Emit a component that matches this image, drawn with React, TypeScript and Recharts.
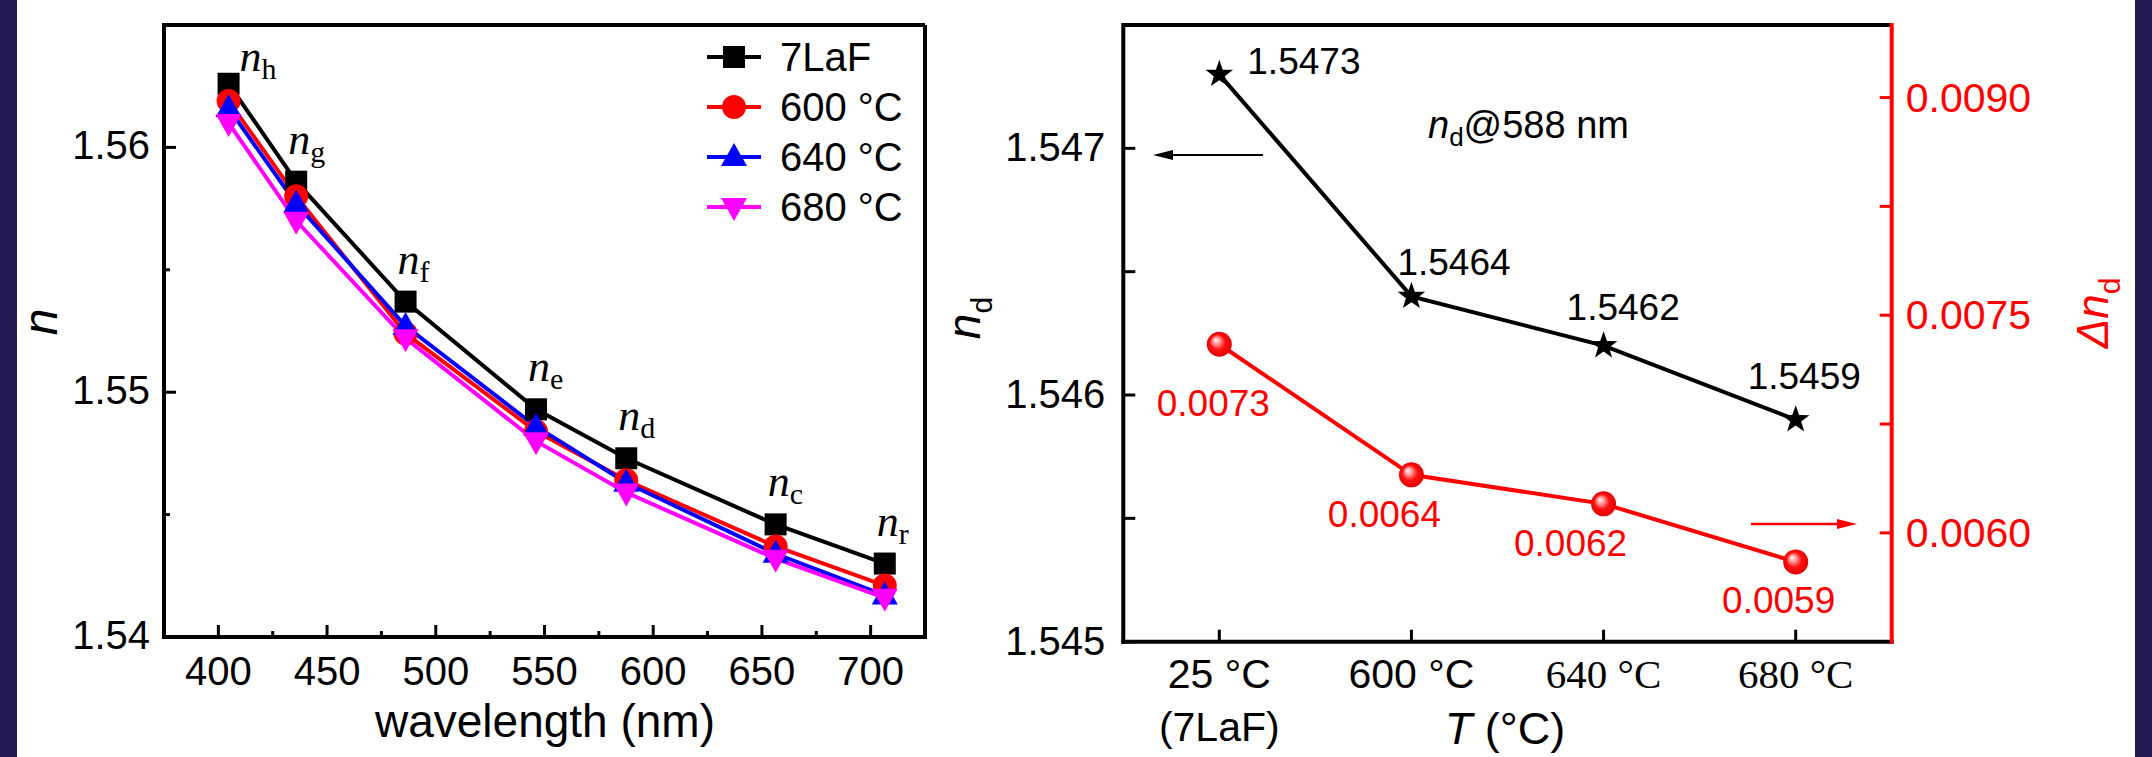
import React from "react"
import { LineChart, Line, XAxis, YAxis, ReferenceLine, LabelList } from "recharts"

const SANS = "'Liberation Sans', Arial, Helvetica, sans-serif"
const SERIF = "'Liberation Serif', 'Times New Roman', serif"
const NAVY = "#211a50"

// left panel: n vs wavelength (Fraunhofer lines)
const wavelengths = [404.7, 435.8, 486.1, 546.1, 587.6, 656.3, 706.5]
const lineLetters = ["h", "g", "f", "e", "d", "c", "r"]
const n7LaF = [1.5626, 1.5586, 1.5537, 1.5493, 1.5473, 1.5446, 1.543]
const n600 = [1.5619, 1.558, 1.5524, 1.5484, 1.5464, 1.5437, 1.5421]
const n640 = [1.5616, 1.5577, 1.5527, 1.5486, 1.5463, 1.5434, 1.5417]
const n680 = [1.561, 1.557, 1.5522, 1.548, 1.5459, 1.5432, 1.5416]
const seriesNames = ["7LaF", "600 °C", "640 °C", "680 °C"]
const seriesColors = ["#000000", "#ff0000", "#0000ff", "#ff00ff"]
const seriesShapes = ["square", "circle", "up", "down"]
const wlTicks = [400, 425, 450, 475, 500, 525, 550, 575, 600, 625, 650, 675, 700]
const nTicks = [1.54, 1.545, 1.55, 1.555, 1.56]

// right panel: nd and delta nd vs heat-treatment temperature
const temps = ["25 °C", "600 °C", "640 °C", "680 °C"]
const ndValues = [1.5473, 1.5464, 1.5462, 1.5459]
const dndValues = [0.0073, 0.0064, 0.0062, 0.0058]
const ndLabels = ["1.5473", "1.5464", "1.5462", "1.5459"]
const dndLabels = ["0.0073", "0.0064", "0.0062", "0.0059"]
const ndTicks = [1.545, 1.5455, 1.546, 1.5465, 1.547]
const dndTicks = [0.006, 0.00675, 0.0075, 0.00825, 0.009]

const leftData = wavelengths.map((wl, i) => ({
  wl,
  s0: n7LaF[i],
  s1: n600[i],
  s2: n640[i],
  s3: n680[i],
}))

const rightData = temps.map((t, i) => ({ temp: t, nd: ndValues[i], dnd: dndValues[i] }))

// label placement (pixels relative to the point)
const ND_LABEL_OFFSETS = [[28, 0], [-14, -21], [-37, -26], [-48, -31]]
const DND_LABEL_OFFSETS = [[-6, 72], [-27, 52], [-33, 52], [-17, 51]]

const AXIS = { stroke: "#000", strokeWidth: 4, strokeLinecap: "square" as const }

function marker(shape: string, cx: number, cy: number, color: string) {
  switch (shape) {
    case "square":
      return <rect x={cx - 11} y={cy - 11} width={22} height={22} fill={color} />
    case "circle":
      return <circle cx={cx} cy={cy} r={12} fill={color} />
    case "up":
      return <polygon points={`${cx},${cy - 14} ${cx - 13},${cy + 9} ${cx + 13},${cy + 9}`} fill={color} />
    default:
      return <polygon points={`${cx},${cy + 14} ${cx - 13},${cy - 9} ${cx + 13},${cy - 9}`} fill={color} />
  }
}

function starPath(cx: number, cy: number, R: number, r: number) {
  let d = ""
  for (let k = 0; k < 10; k++) {
    const rad = k % 2 === 0 ? R : r
    const a = -Math.PI / 2 + (k * Math.PI) / 5
    d += (k === 0 ? "M" : "L") + (cx + rad * Math.cos(a)).toFixed(2) + "," + (cy + rad * Math.sin(a)).toFixed(2)
  }
  return d + "Z"
}

const renderWlTick = (p: any) => {
  const axisY = p.y - 10
  const v = p.payload.value
  const major = v % 50 === 0
  return (
    <g>
      <line x1={p.x} x2={p.x} y1={axisY} y2={axisY - (major ? 12 : 6)} stroke="#000" strokeWidth={3} />
      {major && (
        <text x={p.x} y={axisY + 48} textAnchor="middle" fontFamily={SANS} fontSize={40} fill="#000">
          {v}
        </text>
      )}
    </g>
  )
}

const renderNTick = (p: any) => {
  const axisX = p.x + 14
  const v = p.payload.value
  const major = Math.round(v * 1000) % 10 === 0
  return (
    <g>
      <line x1={axisX} x2={axisX + (major ? 12 : 6)} y1={p.y} y2={p.y} stroke="#000" strokeWidth={3} />
      {major && (
        <text x={axisX - 14} y={p.y + 12} textAnchor="end" fontFamily={SANS} fontSize={40} fill="#000">
          {v.toFixed(2)}
        </text>
      )}
    </g>
  )
}

const renderTempTick = (p: any) => {
  const axisY = p.y - 10
  const i = p.index
  const font = i >= 2 ? SERIF : SANS
  return (
    <g>
      <line x1={p.x} x2={p.x} y1={axisY} y2={axisY - 12} stroke="#000" strokeWidth={3} />
      <text x={p.x} y={axisY + 46} textAnchor="middle" fontFamily={font} fontSize={41} fill="#000">
        {temps[i]}
      </text>
      {i === 0 && (
        <text x={p.x} y={axisY + 99} textAnchor="middle" fontFamily={SANS} fontSize={41} fill="#000">
          (7LaF)
        </text>
      )}
    </g>
  )
}

const renderNdTick = (p: any) => {
  const axisX = p.x + 14
  const v = p.payload.value
  const major = Math.round(v * 10000) % 10 === 0
  return (
    <g>
      <line x1={axisX} x2={axisX + 12} y1={p.y} y2={p.y} stroke="#000" strokeWidth={3} />
      {major && (
        <text x={axisX - 18} y={p.y + 13} textAnchor="end" fontFamily={SANS} fontSize={40} fill="#000">
          {v.toFixed(3)}
        </text>
      )}
    </g>
  )
}

const renderDndTick = (p: any) => {
  const axisX = p.x - 14
  const v = p.payload.value
  const major = Math.round(v * 100000) % 150 === 0
  return (
    <g>
      <line x1={axisX} x2={axisX - 12} y1={p.y} y2={p.y} stroke="#ff0000" strokeWidth={3} />
      {major && (
        <text x={axisX + 14} y={p.y + 14} textAnchor="start" fontFamily={SANS} fontSize={41} fill="#ff0000">
          {v.toFixed(4)}
        </text>
      )}
    </g>
  )
}

const renderLineLetter = (p: any) => {
  const x = p.viewBox?.x ?? p.x
  const y = p.viewBox?.y ?? p.y
  const i = p.index
  const dx = i === 0 ? 11 : -8
  const dy = i === 0 ? -13 : -28
  return (
    <text x={x + dx} y={y + dy} fontFamily={SERIF} fill="#000">
      <tspan fontStyle="italic" fontSize={44}>n</tspan>
      <tspan fontSize={30} dy={8}>{lineLetters[i]}</tspan>
    </text>
  )
}

const renderNdLabel = (p: any) => {
  const x = p.viewBox?.x ?? p.x
  const y = p.viewBox?.y ?? p.y
  const [dx, dy] = ND_LABEL_OFFSETS[p.index]
  return (
    <text x={x + dx} y={y + dy} fontFamily={SANS} fontSize={37} fill="#000">
      {ndLabels[p.index]}
    </text>
  )
}

const renderDndLabel = (p: any) => {
  const x = p.viewBox?.x ?? p.x
  const y = p.viewBox?.y ?? p.y
  const [dx, dy] = DND_LABEL_OFFSETS[p.index]
  return (
    <text x={x + dx} y={y + dy} textAnchor="middle" fontFamily={SANS} fontSize={37} fill="#ff0000">
      {dndLabels[p.index]}
    </text>
  )
}

function Legend() {
  return (
    <div style={{ position: "absolute", left: 705, top: 32, fontFamily: SANS, fontSize: 40 }}>
      {seriesNames.map((name, i) => (
        <div key={name} style={{ display: "flex", alignItems: "center", height: 50 }}>
          <svg width={60} height={50}>
            <line x1={2} x2={56} y1={25} y2={25} stroke={seriesColors[i]} strokeWidth={4} />
            {marker(seriesShapes[i], 29, 25, seriesColors[i])}
          </svg>
          <span style={{ marginLeft: 15, lineHeight: "50px" }}>{name}</span>
        </div>
      ))}
    </div>
  )
}

export default function App() {
  return (
    <div style={{ position: "absolute", left: 0, top: 0, width: 2152, height: 757, background: "#fff", overflow: "hidden" }}>
      <div style={{ position: "absolute", left: 0, top: 0, width: 17, height: 757, background: NAVY }} />
      <div style={{ position: "absolute", left: 2135, top: 0, width: 17, height: 757, background: NAVY }} />

      <div style={{ position: "absolute", left: 0, top: 0 }}>
        <LineChart width={940} height={757} data={leftData} margin={{ top: 25, right: 15, bottom: 60, left: 64 }}>
          <XAxis
            type="number"
            dataKey="wl"
            domain={[375, 725]}
            ticks={wlTicks}
            interval={0}
            height={60}
            tickSize={0}
            tickMargin={10}
            tickLine={false}
            axisLine={AXIS}
            tick={renderWlTick}
          />
          <YAxis
            type="number"
            domain={[1.54, 1.565]}
            ticks={nTicks}
            interval={0}
            width={100}
            tickSize={0}
            tickMargin={14}
            tickLine={false}
            axisLine={AXIS}
            tick={renderNTick}
          />
          <ReferenceLine y={1.565} stroke="#000" strokeWidth={4} />
          <ReferenceLine x={725} stroke="#000" strokeWidth={4} />
          {seriesNames.map((name, s) => (
            <Line
              key={name}
              dataKey={`s${s}`}
              stroke={seriesColors[s]}
              strokeWidth={4}
              isAnimationActive={false}
              activeDot={false}
              dot={(p: any) => <g key={`d${s}-${p.index}`}>{marker(seriesShapes[s], p.cx, p.cy, seriesColors[s])}</g>}
            >
              {s === 0 && <LabelList dataKey="s0" content={renderLineLetter} />}
            </Line>
          ))}
        </LineChart>
        <Legend />
      </div>

      <div style={{ position: "absolute", left: 880, top: 0 }}>
        <LineChart width={1272} height={757} data={rightData} margin={{ top: 25, right: 160.3, bottom: 55.3, left: 143.3 }}>
          <defs>
            <radialGradient id="sphere" cx="50%" cy="50%" r="55%" fx="35%" fy="32%">
              <stop offset="0%" stopColor="#ffffff" />
              <stop offset="25%" stopColor="#ff9a9a" />
              <stop offset="55%" stopColor="#ff1010" />
              <stop offset="100%" stopColor="#d80000" />
            </radialGradient>
          </defs>
          <XAxis
            dataKey="temp"
            type="category"
            padding={{ left: 96, right: 96 }}
            interval={0}
            height={60}
            tickSize={0}
            tickMargin={10}
            tickLine={false}
            axisLine={AXIS}
            tick={renderTempTick}
          />
          <YAxis
            yAxisId="l"
            type="number"
            domain={[1.545, 1.5475]}
            ticks={ndTicks}
            interval={0}
            width={100}
            tickSize={0}
            tickMargin={14}
            tickLine={false}
            axisLine={AXIS}
            tick={renderNdTick}
          />
          <YAxis
            yAxisId="r"
            orientation="right"
            type="number"
            domain={[0.00525, 0.0095]}
            ticks={dndTicks}
            interval={0}
            width={100}
            tickSize={0}
            tickMargin={14}
            tickLine={false}
            axisLine={{ stroke: "#ff0000", strokeWidth: 4, strokeLinecap: "square" }}
            tick={renderDndTick}
          />
          <ReferenceLine yAxisId="l" y={1.5475} stroke="#000" strokeWidth={4} />
          <Line
            yAxisId="l"
            dataKey="nd"
            stroke="#000"
            strokeWidth={4}
            isAnimationActive={false}
            activeDot={false}
            dot={(p: any) => <path key={`st-${p.index}`} d={starPath(p.cx, p.cy, 14.5, 5.8)} fill="#000" />}
          >
            <LabelList dataKey="nd" content={renderNdLabel} />
          </Line>
          <Line
            yAxisId="r"
            dataKey="dnd"
            stroke="#ff0000"
            strokeWidth={4}
            isAnimationActive={false}
            activeDot={false}
            dot={(p: any) => <circle key={`sp-${p.index}`} cx={p.cx} cy={p.cy} r={12.5} fill="url(#sphere)" />}
          >
            <LabelList dataKey="dnd" content={renderDndLabel} />
          </Line>
        </LineChart>
      </div>

      <svg width={2152} height={757} style={{ position: "absolute", left: 0, top: 0, pointerEvents: "none" }}>
        <text x={545} y={737} textAnchor="middle" fontFamily={SANS} fontSize={46} fill="#000">
          wavelength (nm)
        </text>
        <text transform="translate(57,322) rotate(-90)" textAnchor="middle" fontFamily={SANS} fontSize={48} fontStyle="italic" fill="#000">
          n
        </text>
        <text transform="translate(980,318) rotate(-90)" textAnchor="middle" fontFamily={SANS} fill="#000">
          <tspan fontStyle="italic" fontSize={46}>n</tspan>
          <tspan fontSize={30} dy={12}>d</tspan>
        </text>
        <text transform="translate(2108,313) rotate(-90)" textAnchor="middle" fontFamily={SANS} fill="#ff0000">
          <tspan fontStyle="italic" fontSize={44}>Δn</tspan>
          <tspan fontSize={30} dy={12}>d</tspan>
        </text>
        <text x={1505} y={744} textAnchor="middle" fontFamily={SANS} fontSize={45} fill="#000">
          <tspan fontStyle="italic">T</tspan>
          <tspan> (°C)</tspan>
        </text>
        <text x={1428} y={138} fontFamily={SANS} fill="#000">
          <tspan fontStyle="italic" fontSize={38}>n</tspan>
          <tspan fontSize={26} dy={8}>d</tspan>
          <tspan fontSize={38} dy={-8}>@588 nm</tspan>
        </text>
        <line x1={1263} x2={1170} y1={155} y2={155} stroke="#000" strokeWidth={2} />
        <polygon points="1153,155 1173,150 1173,160" fill="#000" />
        <line x1={1751} x2={1840} y1={524} y2={524} stroke="#ff0000" strokeWidth={2.5} />
        <polygon points="1857,524 1837,519 1837,529" fill="#ff0000" />
      </svg>
    </div>
  )
}
